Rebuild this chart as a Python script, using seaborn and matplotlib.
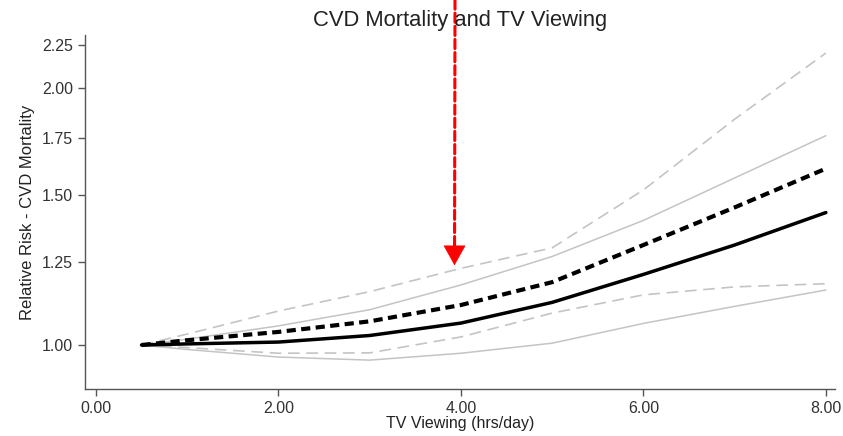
import numpy as np
import pandas as pd
import matplotlib
matplotlib.use('Agg')
import matplotlib.pyplot as plt
from matplotlib.ticker import FixedLocator, FormatStrFormatter, NullLocator
import seaborn as sns

# TV viewing (hrs/day) and relative risk of CVD mortality
tv_hours = [0.5, 1, 2, 3, 4, 5, 6, 7, 8]
rr_model_a = [1.0, 1.003, 1.008, 1.026, 1.061, 1.122, 1.21, 1.31, 1.43]
rr_model_a_lo = [1.0, 0.988, 0.968, 0.96, 0.978, 1.005, 1.06, 1.11, 1.16]
rr_model_a_hi = [1.0, 1.016, 1.053, 1.10, 1.176, 1.27, 1.40, 1.57, 1.76]
rr_model_b = [1.0, 1.013, 1.036, 1.066, 1.114, 1.185, 1.31, 1.45, 1.61]
rr_model_b_lo = [1.0, 0.993, 0.978, 0.979, 1.022, 1.09, 1.145, 1.17, 1.18]
rr_model_b_hi = [1.0, 1.03, 1.096, 1.155, 1.23, 1.30, 1.52, 1.84, 2.20]

y_ticks = [1.00, 1.25, 1.50, 1.75, 2.00, 2.25]
x_ticks = [0, 2, 4, 6, 8]
arrow_x, arrow_y = 3.93, 1.24

sns.set_theme(style='ticks')
plt.rcParams['font.family'] = ['Liberation Sans', 'DejaVu Sans']

fig = plt.figure(figsize=(8.43, 4.36), dpi=100)
ax = fig.add_axes([0.1008, 0.1078, 0.8897, 0.812])

light = '#c4c4c4'
sns.lineplot(x=tv_hours, y=rr_model_b_hi, ax=ax, color=light, lw=1.2)
ax.lines[-1].set_dashes([7, 4])
sns.lineplot(x=tv_hours, y=rr_model_b_lo, ax=ax, color=light, lw=1.2)
ax.lines[-1].set_dashes([7, 4])
sns.lineplot(x=tv_hours, y=rr_model_a_hi, ax=ax, color=light, lw=1.1)
sns.lineplot(x=tv_hours, y=rr_model_a_lo, ax=ax, color=light, lw=1.1)
sns.lineplot(x=tv_hours, y=rr_model_b, ax=ax, color='black', lw=3)
ax.lines[-1].set_dashes([2.2, 1.3])
sns.lineplot(x=tv_hours, y=rr_model_a, ax=ax, color='black', lw=2.5)

ax.set_yscale('log')
ax.set_xlim(-0.12, 8.1)
ax.set_ylim(0.888, 2.31)
ax.yaxis.set_major_locator(FixedLocator(y_ticks))
ax.yaxis.set_major_formatter(FormatStrFormatter('%.2f'))
ax.yaxis.set_minor_locator(NullLocator())
ax.set_xticks(x_ticks)
ax.xaxis.set_major_formatter(FormatStrFormatter('%.2f'))

for side in ['top', 'right']:
  ax.spines[side].set_visible(False)
for side in ['left', 'bottom']:
  ax.spines[side].set_color('#555555')
  ax.spines[side].set_linewidth(1.0)
ax.tick_params(axis='both', colors='#555555', labelcolor='#333333',
               labelsize=11.5, length=5, width=1)

ax.set_xlabel('TV Viewing (hrs/day)', fontsize=11.5, color='#222222', labelpad=0)
ax.set_ylabel('Relative Risk - CVD Mortality', fontsize=12, color='#222222', labelpad=5)
fig.text(0.546, 0.952, 'CVD Mortality and TV Viewing', ha='center', va='center',
         fontsize=15.8, color='#222222')

# dashed shaft from the top edge, solid head at the tip
ax.annotate('', xy=(arrow_x, arrow_y), xycoords='data',
            xytext=(455 / 843, 1.0), textcoords='figure fraction',
            annotation_clip=False,
            arrowprops=dict(arrowstyle='-', color='red', lw=2.2, ls=(0, (3, 1.3)),
                            shrinkA=0, shrinkB=8))
ax.annotate('', xy=(arrow_x, arrow_y), xycoords='data',
            xytext=(0, 13), textcoords='offset points',
            annotation_clip=False,
            arrowprops=dict(arrowstyle='-|>,head_length=0.45,head_width=0.25',
                            color='red', lw=0.5, mutation_scale=30,
                            shrinkA=0, shrinkB=0))

fig.savefig('out.png', dpi=100)
